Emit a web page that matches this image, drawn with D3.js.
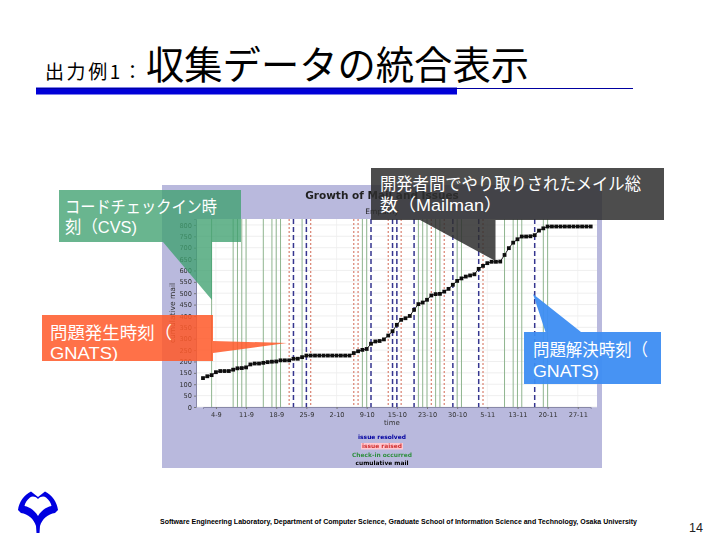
<!DOCTYPE html>
<html lang="ja">
<head>
  <meta charset="UTF-8">
  <title>収集データの統合表示</title>
  <script src="https://cdn.jsdelivr.net/npm/d3@7"></script>
  <style>
    html, body { margin: 0; padding: 0; background: #fff; }
    svg { display: block; }
    text { font-family: "Liberation Sans", "Noto Sans CJK JP", sans-serif; }
    .chart text { font-family: "DejaVu Sans", sans-serif; }
    .jp { font-family: "Noto Sans CJK JP", sans-serif !important; }
  </style>
</head>
<body>
  <div id="slide"></div>

  <script>
    // cumulative mail per day, day 0 = 4-9
    const firstDay = -3;
    const cumulativeMail = [
      127, 135, 140, 153, 158, 158, 158, 164, 170, 171,
      174, 187, 191, 191, 194, 197, 199, 200, 205, 205,
      205, 212, 212, 219, 226, 226, 226, 226, 226, 226,
      226, 226, 226, 226, 226, 237, 245, 251, 255, 278,
      288, 290, 297, 314, 333, 361, 383, 390, 400, 427,
      452, 459, 471, 490, 496, 497, 507, 519, 537, 554,
      565, 573, 578, 583, 607, 620, 632, 638, 638, 639,
      668, 698, 722, 737, 749, 749, 750, 755, 775, 785,
      793, 793, 793, 793, 793, 793, 793, 793, 793, 793, 793
    ];
    const checkIns = [-1, 4, 5, 6, 7, 11, 13, 14, 15, 20, 34, 35, 47, 48, 49, 51, 52, 56, 57, 67, 69, 70, 71, 76, 77];
    const issuesRaised = [17, 22, 32, 33, 40, 43, 50, 53, 62];
    const issuesResolved = [18, 21, 36, 41, 42, 46, 55, 61, 74];
    const tickDays = [0, 7, 14, 21, 28, 35, 42, 49, 56, 63, 70, 77, 84];
    const tickLabels = ['4-9', '11-9', '18-9', '25-9', '2-10', '9-10', '15-10', '23-10', '30-10', '5-11', '13-11', '20-11', '27-11'];
    const yTicks = d3.range(0, 801, 50);

    const width = 720, height = 540;

    const svg = d3.select('#slide').append('svg')
      .attr('width', width)
      .attr('height', height);

    const blur = svg.append('defs').append('filter')
      .attr('id', 'soft')
      .attr('x', 0).attr('y', 0).attr('width', 1).attr('height', 1);
    blur.append('feGaussianBlur').attr('stdDeviation', 0.4);

    // ---- slide header
    svg.append('text').attr('class', 'jp')
      .attr('x', 45).attr('y', 79)
      .attr('font-size', 19)
      .attr('textLength', 97)
      .text('出力例1：');
    svg.append('text').attr('class', 'jp')
      .attr('x', 146).attr('y', 79)
      .attr('font-size', 38.3)
      .text('収集データの統合表示');
    svg.append('rect').attr('x', 36).attr('y', 87.5).attr('width', 421).attr('height', 7).attr('fill', '#0000d8');
    svg.append('rect').attr('x', 36).attr('y', 88).attr('width', 597).attr('height', 1).attr('fill', '#0000a0');

    // ---- chart
    const x = d3.scaleLinear().domain([-3, 87]).range([203, 590.7]);
    const y = d3.scaleLinear().domain([0, 826]).range([407, 219]);

    const chart = svg.append('g').attr('class', 'chart').attr('filter', 'url(#soft)');

    chart.append('rect').attr('x', 162).attr('y', 185).attr('width', 440).attr('height', 283).attr('fill', '#b9b9dd');
    chart.append('rect').attr('x', 196).attr('y', 219).attr('width', 401).attr('height', 188).attr('fill', '#fff');

    chart.append('g').selectAll('line').data(yTicks).join('line')
      .attr('x1', 196).attr('x2', 597)
      .attr('y1', d => y(d)).attr('y2', d => y(d))
      .attr('stroke', '#e8e8e8').attr('stroke-width', 0.7);
    chart.append('g').selectAll('line').data(tickDays).join('line')
      .attr('x1', d => x(d)).attr('x2', d => x(d))
      .attr('y1', 219).attr('y2', 407)
      .attr('stroke', '#eeeeee').attr('stroke-width', 0.7);

    chart.append('g').selectAll('line').data(checkIns).join('line')
      .attr('x1', d => x(d)).attr('x2', d => x(d))
      .attr('y1', 219).attr('y2', 407)
      .attr('stroke', '#8fb58f').attr('stroke-width', 1);
    chart.append('g').selectAll('line').data(issuesRaised).join('line')
      .attr('x1', d => x(d)).attr('x2', d => x(d))
      .attr('y1', 219).attr('y2', 407)
      .attr('stroke', '#d9806f').attr('stroke-width', 1.2)
      .attr('stroke-dasharray', '2,2');
    chart.append('g').selectAll('line').data(issuesResolved).join('line')
      .attr('x1', d => x(d)).attr('x2', d => x(d))
      .attr('y1', 219).attr('y2', 407)
      .attr('stroke', '#35358f').attr('stroke-width', 1.5)
      .attr('stroke-dasharray', '5,3');

    const mailLine = d3.line()
      .x((d, i) => x(firstDay + i))
      .y(d => y(d));
    chart.append('path').datum(cumulativeMail)
      .attr('d', mailLine)
      .attr('fill', 'none')
      .attr('stroke', '#222').attr('stroke-width', 1);
    chart.append('g').selectAll('rect').data(cumulativeMail).join('rect')
      .attr('x', (d, i) => x(firstDay + i) - 1.9)
      .attr('y', d => y(d) - 1.9)
      .attr('width', 3.8).attr('height', 3.8)
      .attr('fill', '#111');

    const yAxis = d3.axisLeft(y).tickValues(yTicks).tickSize(2).tickPadding(2);
    const xAxis = d3.axisBottom(x).tickValues(tickDays)
      .tickFormat((d, i) => tickLabels[i]).tickSize(2).tickPadding(3);
    const yG = chart.append('g').attr('transform', 'translate(196,0)').call(yAxis);
    const xG = chart.append('g').attr('transform', 'translate(0,407)').call(xAxis);
    [yG, xG].forEach(g => {
      g.select('.domain').attr('stroke', '#8888a8');
      g.selectAll('.tick line').attr('stroke', '#777');
      g.selectAll('text').attr('font-size', 6.6).attr('fill', '#333');
    });

    chart.append('text')
      .attr('transform', 'translate(175,313) rotate(-90)')
      .attr('text-anchor', 'middle').attr('font-size', 7.5).attr('fill', '#333')
      .text('cumulative mail');
    chart.append('text')
      .attr('x', 392).attr('y', 425).attr('text-anchor', 'middle')
      .attr('font-size', 7).attr('fill', '#333').text('time');
    chart.append('text')
      .attr('x', 382).attr('y', 199).attr('text-anchor', 'middle')
      .attr('font-size', 10.5).attr('font-weight', 'bold').attr('fill', '#222')
      .text('Growth of Mail and Issues');
    chart.append('text')
      .attr('x', 382).attr('y', 214).attr('text-anchor', 'middle')
      .attr('font-size', 7.5).attr('fill', '#222').text('Empathy');

    // legend under the axis
    const legendNames = ['issue resolved', 'issue raised', 'Check-in occurred', 'cumulative mail'];
    const legendColors = ['#0000a0', '#d03030', '#2f8f3f', '#000'];
    chart.append('rect').attr('x', 361).attr('y', 443).attr('width', 42).attr('height', 6.5).attr('fill', '#ffc8d0');
    chart.append('g').selectAll('text').data(legendNames).join('text')
      .attr('x', 382)
      .attr('y', (d, i) => 439 + i * 8.8)
      .attr('text-anchor', 'middle')
      .attr('font-size', 5.9).attr('font-weight', 'bold')
      .attr('fill', (d, i) => legendColors[i])
      .text(d => d);

    // ---- callouts
    const callouts = [
      { fill: '#3fa070', op: 0.78, path: 'M59,190H241V242H212V300L163,242H59Z',
        lines: ['コードチェックイン時', '刻（CVS)'], lens: [152, 72], tx: 65, ty: 213, step: 19.5 },
      { fill: '#ff5a2a', op: 0.86, path: 'M42,315H213V341L287,343L213,353V361H42Z',
        lines: ['問題発生時刻（', 'GNATS)'], lens: [122, 68], tx: 50, ty: 339, step: 19.5 },
      { fill: '#2e2e2e', op: 0.85, path: 'M371,168H664V220H495.5V261L420,220H371Z',
        lines: ['開発者間でやり取りされたメイル総', '数（Mailman）'], lens: [261, 122], tx: 380, ty: 190, step: 21 },
      { fill: '#3d8df2', op: 0.95, path: 'M524,332H545.5L533,294L581,332H661V384H524Z',
        lines: ['問題解決時刻（', 'GNATS)'], lens: [115, 66], tx: 533, ty: 356, step: 20.6 }
    ];
    const callout = svg.append('g').selectAll('g').data(callouts).join('g');
    callout.append('path')
      .attr('d', d => d.path)
      .attr('fill', d => d.fill)
      .attr('fill-opacity', d => d.op);
    callout.each(function(d) {
      d3.select(this).selectAll('text').data(d.lines).join('text')
        .attr('x', d.tx)
        .attr('y', (t, i) => d.ty + i * d.step)
        .attr('font-size', 17)
        .attr('textLength', (t, i) => d.lens[i])
        .attr('lengthAdjust', 'spacingAndGlyphs')
        .attr('fill', '#fff')
        .text(t => t);
    });

    // ---- logo + footer
    svg.append('path')
      .attr('d', 'M38,497L31,491.5C24,495 19,502 18,510L21,513C28,514 34,519 36,526L36.5,533H39.5L40,526C42,519 48,514 55,513L58,510C57,502 52,495 45,491.5Z'
        + 'M38,499C35,496 32,496 30,497.5C27,500 25,503 24.5,506C30,507 35,511 38,516C41,511 46,507 51.5,506C51,503 49,500 46,497.5C44,496 41,496 38,499Z')
      .attr('fill', '#0000e0')
      .attr('fill-rule', 'evenodd');

    svg.append('text')
      .attr('x', 160).attr('y', 524)
      .attr('font-size', 7.4).attr('font-weight', 'bold')
      .attr('textLength', 477).attr('lengthAdjust', 'spacingAndGlyphs')
      .text('Software Engineering Laboratory, Department of Computer Science, Graduate School of Information Science and Technology, Osaka University');
    svg.append('text')
      .attr('x', 689).attr('y', 532)
      .attr('font-size', 12.5).attr('fill', '#222')
      .text('14');
  </script>
</body>
</html>
